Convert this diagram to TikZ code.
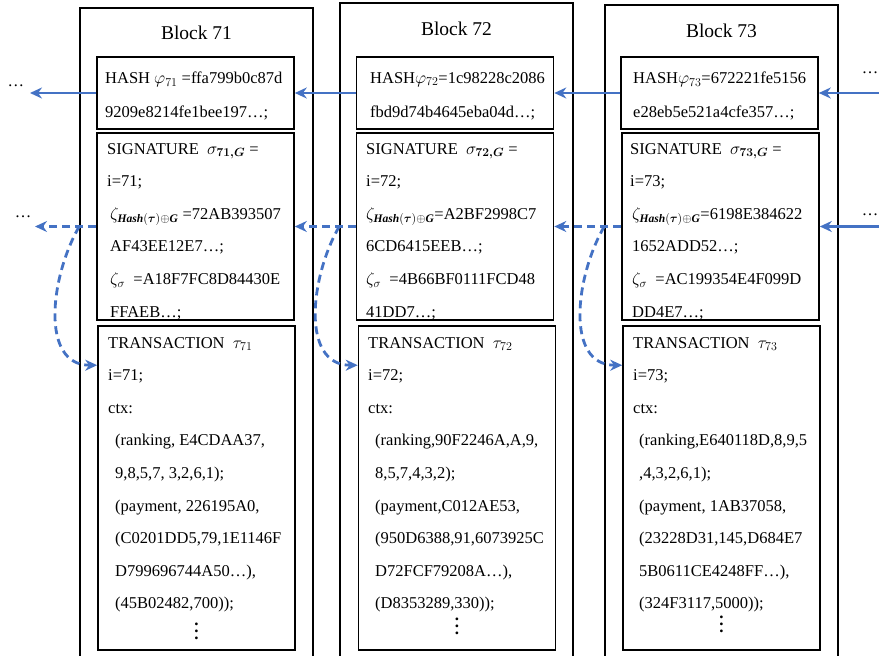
\documentclass[tikz,border=0pt]{standalone}
\usepackage{amsmath}
\usepackage{fontspec}
\setmainfont{Liberation Serif}
\usetikzlibrary{arrows.meta,positioning}
\definecolor{linkblue}{RGB}{68,114,196}
\newcommand{\hsub}{\textbf{\textit{Hash}}(\boldsymbol{\tau})\oplus\textbf{\textit{G}}}
\newcommand{\tallvdots}{\vbox{\baselineskip7pt\lineskiplimit0pt\hbox{\textbf{.}}\hbox{\textbf{.}}\hbox{\textbf{.}}}}

\begin{document}
\begin{tikzpicture}[x=1pt, y=-1pt,
  blk/.style={draw, line width=1.6pt, minimum width=233pt},
  part/.style={draw, line width=1.6pt, minimum width=197pt},
  ttl/.style={font=\fontsize{19.5}{22}\selectfont},
  txt/.style={anchor=north west, inner sep=0pt, align=left, font=\fontsize{16.5}{32.6}\selectfont},
  dot/.style={inner sep=0pt, font=\fontsize{16.5}{20}\selectfont},
  vdot/.style={inner sep=0pt, font=\fontsize{17}{20}\selectfont},
  arr/.style={-{Stealth[length=12pt, width=11pt]}, line width=2.8pt, draw=linkblue},
  darr/.style={arr, dash pattern=on 8pt off 5pt}
]
  \useasboundingbox (0,0) rectangle (879,656);
  \clip (0,0) rectangle (879,656);

  % Outer blocks
  \node[blk, minimum height=672pt] (blk71) at (196.5,344) {};
  \node[blk, minimum height=677pt] (blk72) at (456.5,341.5) {};
  \node[blk, minimum height=675pt] (blk73) at (721.5,342.5) {};
  \node[ttl] (title71) at ([yshift=-26]blk71.north) {Block 71};
  \node[ttl] (title72) at ([yshift=-27]blk72.north) {Block 72};
  \node[ttl] (title73) at ([yshift=-27]blk73.north) {Block 73};

  % Hash parts
  \node[part, minimum height=72pt] (hash71) at (195.5,93) {};
  \node[part, minimum height=72pt] (hash72) at (455,93) {};
  \node[part, minimum height=72pt] (hash73) at (719.5,93) {};
  \node[txt] (hash71t) at (105,72) {HASH $\varphi_{71}$ =ffa799b0c87d\\[1.5pt]9209e8214fe1bee197\ldots;};
  \node[txt] (hash72t) at (370,72) {HASH$\varphi_{72}$=1c98228c2086\\[1.5pt]fbd9d74b4645eba04d\ldots;};
  \node[txt] (hash73t) at (633,72) {HASH$\varphi_{73}$=672221fe5156\\[1.5pt]e28eb5e521a4cfe357\ldots;};

  % Signature parts
  \node[part, minimum height=187pt] (sig71) at (195.5,226.5) {};
  \node[part, minimum height=187pt] (sig72) at (455,226.5) {};
  \node[part, minimum height=187pt] (sig73) at (720.5,226.5) {};
  \node[txt] (sig71t) at (107,143) {SIGNATURE\ \ $\sigma_{\boldsymbol{71,G}}$ =\\
    i=71;\\
    \hspace*{3pt}$\zeta_{\hsub}$ =72AB393507\\
    \hspace*{3pt}AF43EE12E7\ldots;\\
    \hspace*{3pt}$\zeta_{\sigma}$\ \ =A18F7FC8D84430E\\
    \hspace*{3pt}FFAEB\ldots;};
  \node[txt] (sig72t) at (366,143) {SIGNATURE\ \ $\sigma_{\boldsymbol{72,G}}$ =\\
    i=72;\\
    $\zeta_{\hsub}$=A2BF2998C7\\
    6CD6415EEB\ldots;\\
    $\zeta_{\sigma}$\ \ =4B66BF0111FCD48\\
    41DD7\ldots;};
  \node[txt] (sig73t) at (630,143) {SIGNATURE\ \ $\sigma_{\boldsymbol{73,G}}$ =\\
    i=73;\\
    \hspace*{2pt}$\zeta_{\hsub}$=6198E384622\\
    \hspace*{2pt}1652ADD52\ldots;\\
    \hspace*{2pt}$\zeta_{\sigma}$\ \ =AC199354E4F099D\\
    \hspace*{2pt}DD4E7\ldots;};

  % Transaction parts
  \node[part, minimum height=324pt] (tx71) at (196.5,488) {};
  \node[part, minimum height=324pt] (tx72) at (457,488) {};
  \node[part, minimum height=324pt] (tx73) at (721.5,488) {};
  \node[txt] (tx71t) at (108,337) {TRANSACTION\ \ $\tau_{71}$\\
    i=71;\\
    ctx:\\
    \hspace*{7pt}(ranking, E4CDAA37,\\
    \hspace*{7pt}9,8,5,7, 3,2,6,1);\\
    \hspace*{7pt}(payment, 226195A0,\\
    \hspace*{7pt}(C0201DD5,79,1E1146F\\
    \hspace*{7pt}D799696744A50\ldots),\\
    \hspace*{7pt}(45B02482,700));};
  \node[txt] (tx72t) at (368,337) {TRANSACTION\ \ $\tau_{72}$\\
    i=72;\\
    ctx:\\
    \hspace*{7pt}(ranking,90F2246A,A,9,\\
    \hspace*{7pt}8,5,7,4,3,2);\\
    \hspace*{7pt}(payment,C012AE53,\\
    \hspace*{7pt}(950D6388,91,6073925C\\
    \hspace*{7pt}D72FCF79208A\ldots),\\
    \hspace*{7pt}(D8353289,330));};
  \node[txt] (tx73t) at (633,337) {TRANSACTION\ \ $\tau_{73}$\\
    i=73;\\
    ctx:\\
    \hspace*{6pt}(ranking,E640118D,8,9,5\\
    \hspace*{6pt},4,3,2,6,1);\\
    \hspace*{6pt}(payment, 1AB37058,\\
    \hspace*{6pt}(23228D31,145,D684E7\\
    \hspace*{6pt}5B0611CE4248FF\ldots),\\
    \hspace*{6pt}(324F3117,5000));};
  \node[vdot] (more71) at ([yshift=19]tx71.south) {\tallvdots};
  \node[vdot] (more72) at ([yshift=24]tx72.south) {\tallvdots};
  \node[vdot] (more73) at ([yshift=26]tx73.south) {\tallvdots};

  % Ends of the chain
  \node[dot] (dotsHL) at (16,86) {\ldots};
  \node[dot] (dotsSL) at (23,217) {\ldots};
  \node[dot] (dotsHR) at (870,73) {\ldots};
  \node[dot] (dotsSR) at (870,215) {\ldots};
  \coordinate (endHL) at (30,93);
  \coordinate (endSL) at (35,226.5);
  \coordinate (endHR) at (885,93);
  \coordinate (endSR) at (885,226.5);

  % Hash links
  \draw[arr] (hash71.west) -- (endHL);
  \draw[arr] (hash72.west) -- (hash71.east);
  \draw[arr] (hash73.west) -- (hash72.east);
  \draw[arr] (endHR) -- (hash73.east);

  % Signature links
  \draw[darr] (sig71.west) -- (endSL);
  \draw[darr] (sig72.west) -- (sig71.east);
  \draw[darr] (sig73.west) -- (sig72.east);
  \draw[arr] (endSR) -- (sig73.east);

  % Signature to transaction
  \coordinate (c71) at (blk71.west |- sig71.west);
  \coordinate (c72) at (blk72.west |- sig72.west);
  \coordinate (c73) at (blk73.west |- sig73.west);
  \draw[darr] (c71) to[out=240, in=180, looseness=1.05] ([yshift=-40]tx71.north west);
  \draw[darr] (c72) to[out=240, in=180, looseness=1.05] ([yshift=-40]tx72.north west);
  \draw[darr] (c73) to[out=240, in=180, looseness=1.05] ([yshift=-40]tx73.north west);
\end{tikzpicture}
\end{document}
